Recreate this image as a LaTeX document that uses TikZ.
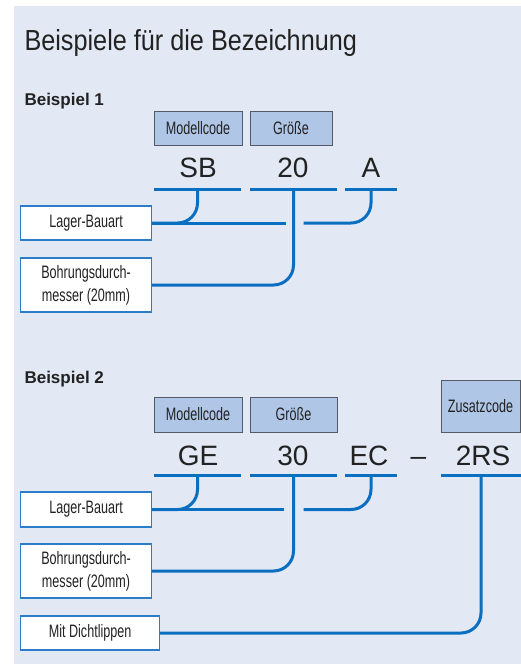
\documentclass[tikz,border=0pt]{standalone}
\usepackage{fontspec}
\setmainfont{Liberation Sans}
\newfontfamily\condfont[FakeStretch=0.70]{Liberation Sans}
\newfontfamily\titlefont[FakeStretch=0.87]{Liberation Sans}
\usepackage{tikz}
\usetikzlibrary{calc,positioning}
\definecolor{Panel}{HTML}{E2E8F4}
\definecolor{TagFill}{HTML}{B0C6E6}
\definecolor{TagLine}{HTML}{555B66}
\definecolor{Conn}{HTML}{0A6FC0}
\definecolor{BoxBlue}{HTML}{2A7DC6}
\definecolor{Ink}{HTML}{222222}
\tikzset{tag/.style={draw=TagLine,fill=TagFill,line width=.8pt,inner sep=0pt,text=Ink,font=\condfont\fontsize{18}{20}\selectfont},info/.style={draw=BoxBlue,fill=white,line width=1.2pt,inner sep=0pt,align=center,anchor=west,text=Ink,font=\condfont\fontsize{18}{23}\selectfont},code/.style={anchor=base,text=Ink,font=\fontsize{28}{30}\selectfont},uline/.style={fill=Conn,inner sep=0pt,minimum height=3pt},conn/.style={line width=3pt,draw=Conn}}
\begin{document}
\begin{tikzpicture}[x=1pt,y=-1pt]
        \useasboundingbox(0,0)rectangle(521,664);
        \fill[Panel](14,6)rectangle(521,664);
        \node[anchor=base west,text=Ink,font=\titlefont\fontsize{29}{32}\selectfont](title)at(21,50){Beispiele für die Bezeichnung};
        % Beispiel 1
        \node[anchor=base west,text=Ink,font=\bfseries\fontsize{17}{20}\selectfont](bsp1)at(21,105){Beispiel 1};
        \node[tag,minimum width=88pt,minimum height=34pt](model1)at(198,128){Modellcode};
        \node[tag,minimum width=82pt,minimum height=34pt](size1)at(291,128){Größe};
        \node[code](sb)at(198,177){SB};
        \node[code](n20)at(293,177){20};
        \node[code](a)at(371,177){A};
        \node[uline,minimum width=87pt](usb)at(197.5,189){};
        \node[uline,minimum width=87pt](u20)at(293.5,189){};
        \node[uline,minimum width=52pt](ua)at(371,189){};
        \node[info,minimum width=131pt,minimum height=34pt](lager1)at(20,223){Lager-Bauart};
        \node[info,minimum width=131pt,minimum height=54pt](bohr1)at(20,285){Bohrungsdurch-\\messer (20mm)};
        \coordinate(g1l)at($(lager1.east -| u20.south)+(-8,0)$);
        \coordinate(g1r)at($(lager1.east -| u20.south)+(10,0)$);
        \draw[conn](lager1.east)--(g1l);
        \draw[conn,rounded corners=20pt](usb.south)|-(lager1.east);
        \draw[conn,rounded corners=20pt](ua.south)|-(g1r);
        \draw[conn,rounded corners=20pt](u20.south)|-(bohr1.east);
        % Beispiel 2
        \node[anchor=base west,text=Ink,font=\bfseries\fontsize{17}{20}\selectfont](bsp2)at(21,383){Beispiel 2};
        \node[tag,minimum width=88pt,minimum height=35pt](model2)at(198,414.5){Modellcode};
        \node[tag,minimum width=87pt,minimum height=35pt](size2)at(293.5,414.5){Größe};
        \node[tag,minimum width=79pt,minimum height=52pt](extra)at(480.5,406){Zusatzcode};
        \node[code](ge)at(198,465){GE};
        \node[code](n30)at(293,465){30};
        \node[code](ec)at(369,465){EC};
        \node[code](dash)at(418.5,465){–};
        \node[code](rs)at(483,465){2RS};
        \node[uline,minimum width=87pt](uge)at(197.5,475){};
        \node[uline,minimum width=87pt](u30)at(293.5,475){};
        \node[uline,minimum width=52pt](uec)at(371,475){};
        \node[uline,minimum width=80pt](urs)at(481,475){};
        \node[info,minimum width=131pt,minimum height=35pt](lager2)at(20,509.5){Lager-Bauart};
        \node[info,minimum width=131pt,minimum height=54pt](bohr2)at(20,571){Bohrungsdurch-\\messer (20mm)};
        \node[info,minimum width=139pt,minimum height=34pt](dicht)at(20,633){Mit Dichtlippen};
        \coordinate(g2l)at($(lager2.east -| u30.south)+(-10,0)$);
        \coordinate(g2r)at($(lager2.east -| u30.south)+(10,0)$);
        \draw[conn](lager2.east)--(g2l);
        \draw[conn,rounded corners=20pt](uge.south)|-(lager2.east);
        \draw[conn,rounded corners=20pt](uec.south)|-(g2r);
        \draw[conn,rounded corners=20pt](u30.south)|-(bohr2.east);
        \draw[conn,rounded corners=20pt](urs.south)|-(dicht.east);
      \end{tikzpicture}
\end{document}
